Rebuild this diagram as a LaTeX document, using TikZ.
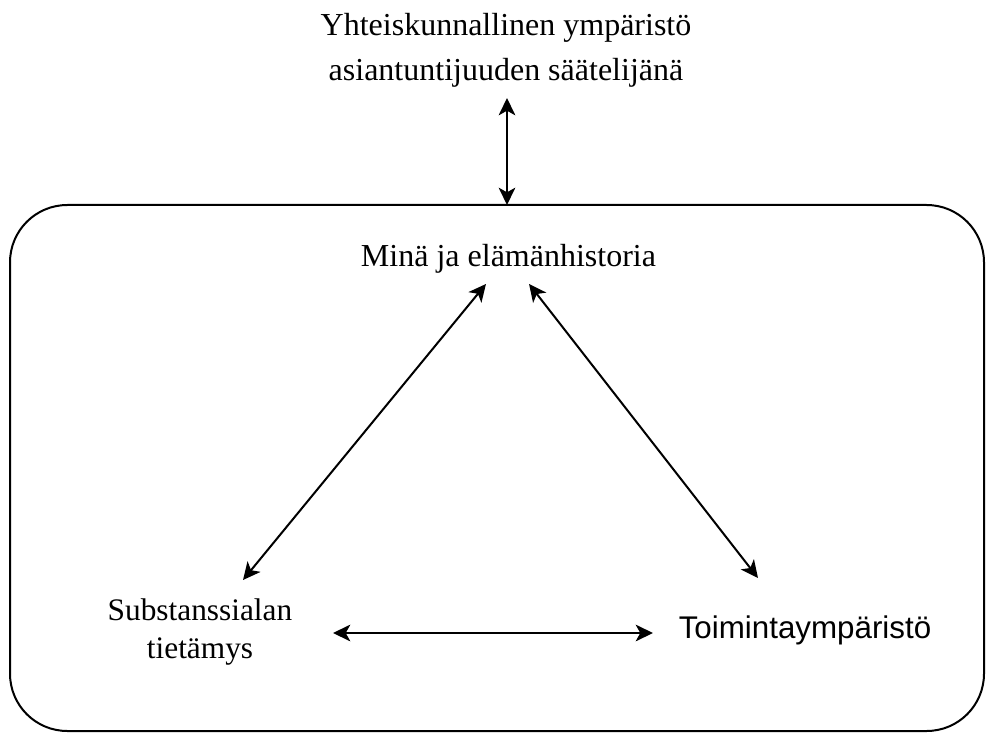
\documentclass[tikz,border=0pt]{standalone}
\usepackage{fontspec}
\setmainfont{Liberation Serif}
\newfontfamily\arialfont{Liberation Sans}
\usetikzlibrary{arrows.meta}

\tikzset{
  label text/.style={inner sep=0pt, outer sep=0pt, align=center},
  biarrow/.style={line width=1.5pt, {Stealth[length=13pt, width=12.5pt, inset=3.5pt]}-{Stealth[length=13pt, width=12.5pt, inset=3.5pt]}},
  frame box/.style={draw, line width=1.5pt, rounded corners=43pt, inner sep=0pt, outer sep=0pt,
    minimum width=730.5pt, minimum height=394.5pt}
}

\begin{document}
\begin{tikzpicture}[x=0.75pt, y=-0.75pt]
  % canvas
  \useasboundingbox (0,0) rectangle (989,738);

  % surrounding frame
  \node[frame box] (frame) at (497,468) {};

  % texts
  \node[label text, font=\fontsize{24}{33.75}\selectfont] (top) at (506,50)
    {Yhteiskunnallinen ympäristö\\asiantuntijuuden säätelijänä};
  \node[label text, anchor=base, font=\fontsize{24}{30}\selectfont] (mina) at (508.5,267)
    {Minä ja elämänhistoria};
  \node[label text, font=\fontsize{23.5}{28.5}\selectfont] (sub) at (200,632)
    {Substanssialan\\tietämys};
  \node[label text, anchor=base, font=\arialfont\fontsize{23.5}{28}\selectfont] (toim) at (805,638)
    {Toimintaympäristö};

  % connectors
  \draw[biarrow] ([xshift=0.75pt, yshift=-36pt]top.center) -- ([xshift=7.5pt]frame.north);
  \draw[biarrow] ([xshift=32.25pt, yshift=39pt]sub.center) -- ([xshift=-16.9pt, yshift=-12.75pt]mina.base);
  \draw[biarrow] ([xshift=15.4pt, yshift=-12.75pt]mina.base) -- ([xshift=-35.25pt, yshift=45pt]toim.base);
  \draw[biarrow] ([xshift=99.75pt, yshift=-0.75pt]sub.center) -- ([xshift=-114pt, yshift=3.75pt]toim.base);
\end{tikzpicture}
\end{document}
